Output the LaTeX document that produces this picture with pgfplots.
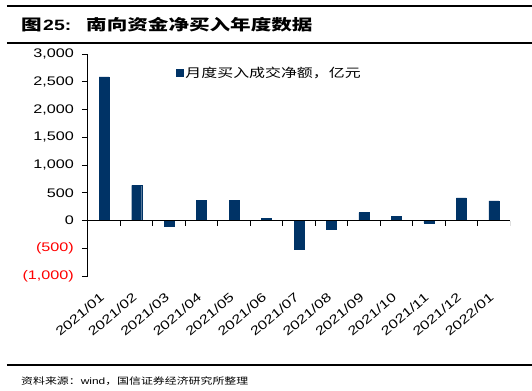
\documentclass[border=0pt]{standalone}
\usepackage{fontspec}
\usepackage{pgfplots}
\pgfplotsset{compat=1.18}
\setmainfont[FakeStretch=1.3]{Liberation Sans}
\newfontfamily\cjk[FakeStretch=1.3]{Noto Sans CJK SC}
\newfontfamily\cjktitle[FakeStretch=1.35]{Noto Sans CJK SC}
\definecolor{navy}{RGB}{0,51,102}
\definecolor{negred}{RGB}{255,0,0}
\begin{document}
\begin{tikzpicture}
\useasboundingbox (-88bp,-115bp) rectangle (444bp,276bp);
\draw[line width=2bp] (-81bp,270bp) -- (444bp,270bp);
\draw[line width=2bp] (-81bp,233bp) -- (444bp,233bp);
\draw[line width=2bp] (-81bp,-89bp) -- (444bp,-89bp);
\node[anchor=west, inner sep=0] at (-67bp,251bp) {\cjktitle\bfseries\fontsize{15.3}{18}\selectfont 图};
\node[anchor=west, inner sep=0] at (-45bp,251bp) {\bfseries\fontsize{15}{18}\selectfont 25:};
\node[anchor=west, inner sep=0] at (-2bp,251bp) {\cjktitle\bfseries\fontsize{15.3}{18}\selectfont 南向资金净买入年度数据};
\node[anchor=west, inner sep=0] at (-67bp,-105bp) {\fontsize{9.2}{11}\selectfont\cjk 资料来源：\rmfamily wind\cjk ，国信证券经济研究所整理};
\begin{axis}[
  at={(0,0)}, anchor=south west,
  scale only axis, width=422bp, height=222bp,
  xmin=-0.5, xmax=12.5, ymin=-1000, ymax=3000,
  ybar, bar width=10bp,
  axis y line*=left, axis x line*=bottom,
  x axis line style={draw=none},
  xtick={0,...,12},
  xticklabels={2021/01,2021/02,2021/03,2021/04,2021/05,2021/06,2021/07,2021/08,2021/09,2021/10,2021/11,2021/12,2022/01},
  xtick style={draw=none},
  ytick={-1000,-500,0,500,1000,1500,2000,2500,3000},
  yticklabels={\textcolor{negred}{(1,000)},\textcolor{negred}{(500)},0,500,{1,000},{1,500},{2,000},{2,500},{3,000}},
  /pgf/number format/assume math mode=true,
  tick label style={font=\fontsize{12.5}{14}\selectfont},
  y axis line style={line width=1bp, -},
  ytick style={line width=1bp, black},
  tick align=outside, major tick length=6bp,
  yticklabel style={anchor=east, inner sep=0, xshift=-8bp},
  xticklabel style={anchor=north east, inner sep=0, xshift=-5bp, yshift=-10bp, rotate=40},
  legend style={draw=none, fill=none, at={(axis description cs:0.2085,0.914)}, anchor=west, inner sep=0, font=\cjk\fontsize{12.3}{14}\selectfont},
  legend image code/.code={\fill[navy] (0bp,-3.5bp) rectangle (7bp,3.5bp);},
]
\addplot[fill=navy, draw=navy, line width=0.3bp] coordinates {
(0,2590) (1,631) (2,-103) (3,361) (4,361) (5,41) (6,-523) (7,-162) (8,144) (9,78) (10,-43) (11,408) (12,354)
};
\legend{月度买入成交净额，亿元}
\draw[line width=1bp] (axis cs:-0.5,0) -- (axis cs:12.5,0);
\pgfplotsinvokeforeach{0.5,1.5,2.5,3.5,4.5,5.5,6.5,7.5,8.5,9.5,10.5,11.5,12.5}{
  \draw[line width=1bp] (axis cs:#1,0) -- ++(0bp,-5bp);
}
\end{axis}
\end{tikzpicture}
\end{document}
